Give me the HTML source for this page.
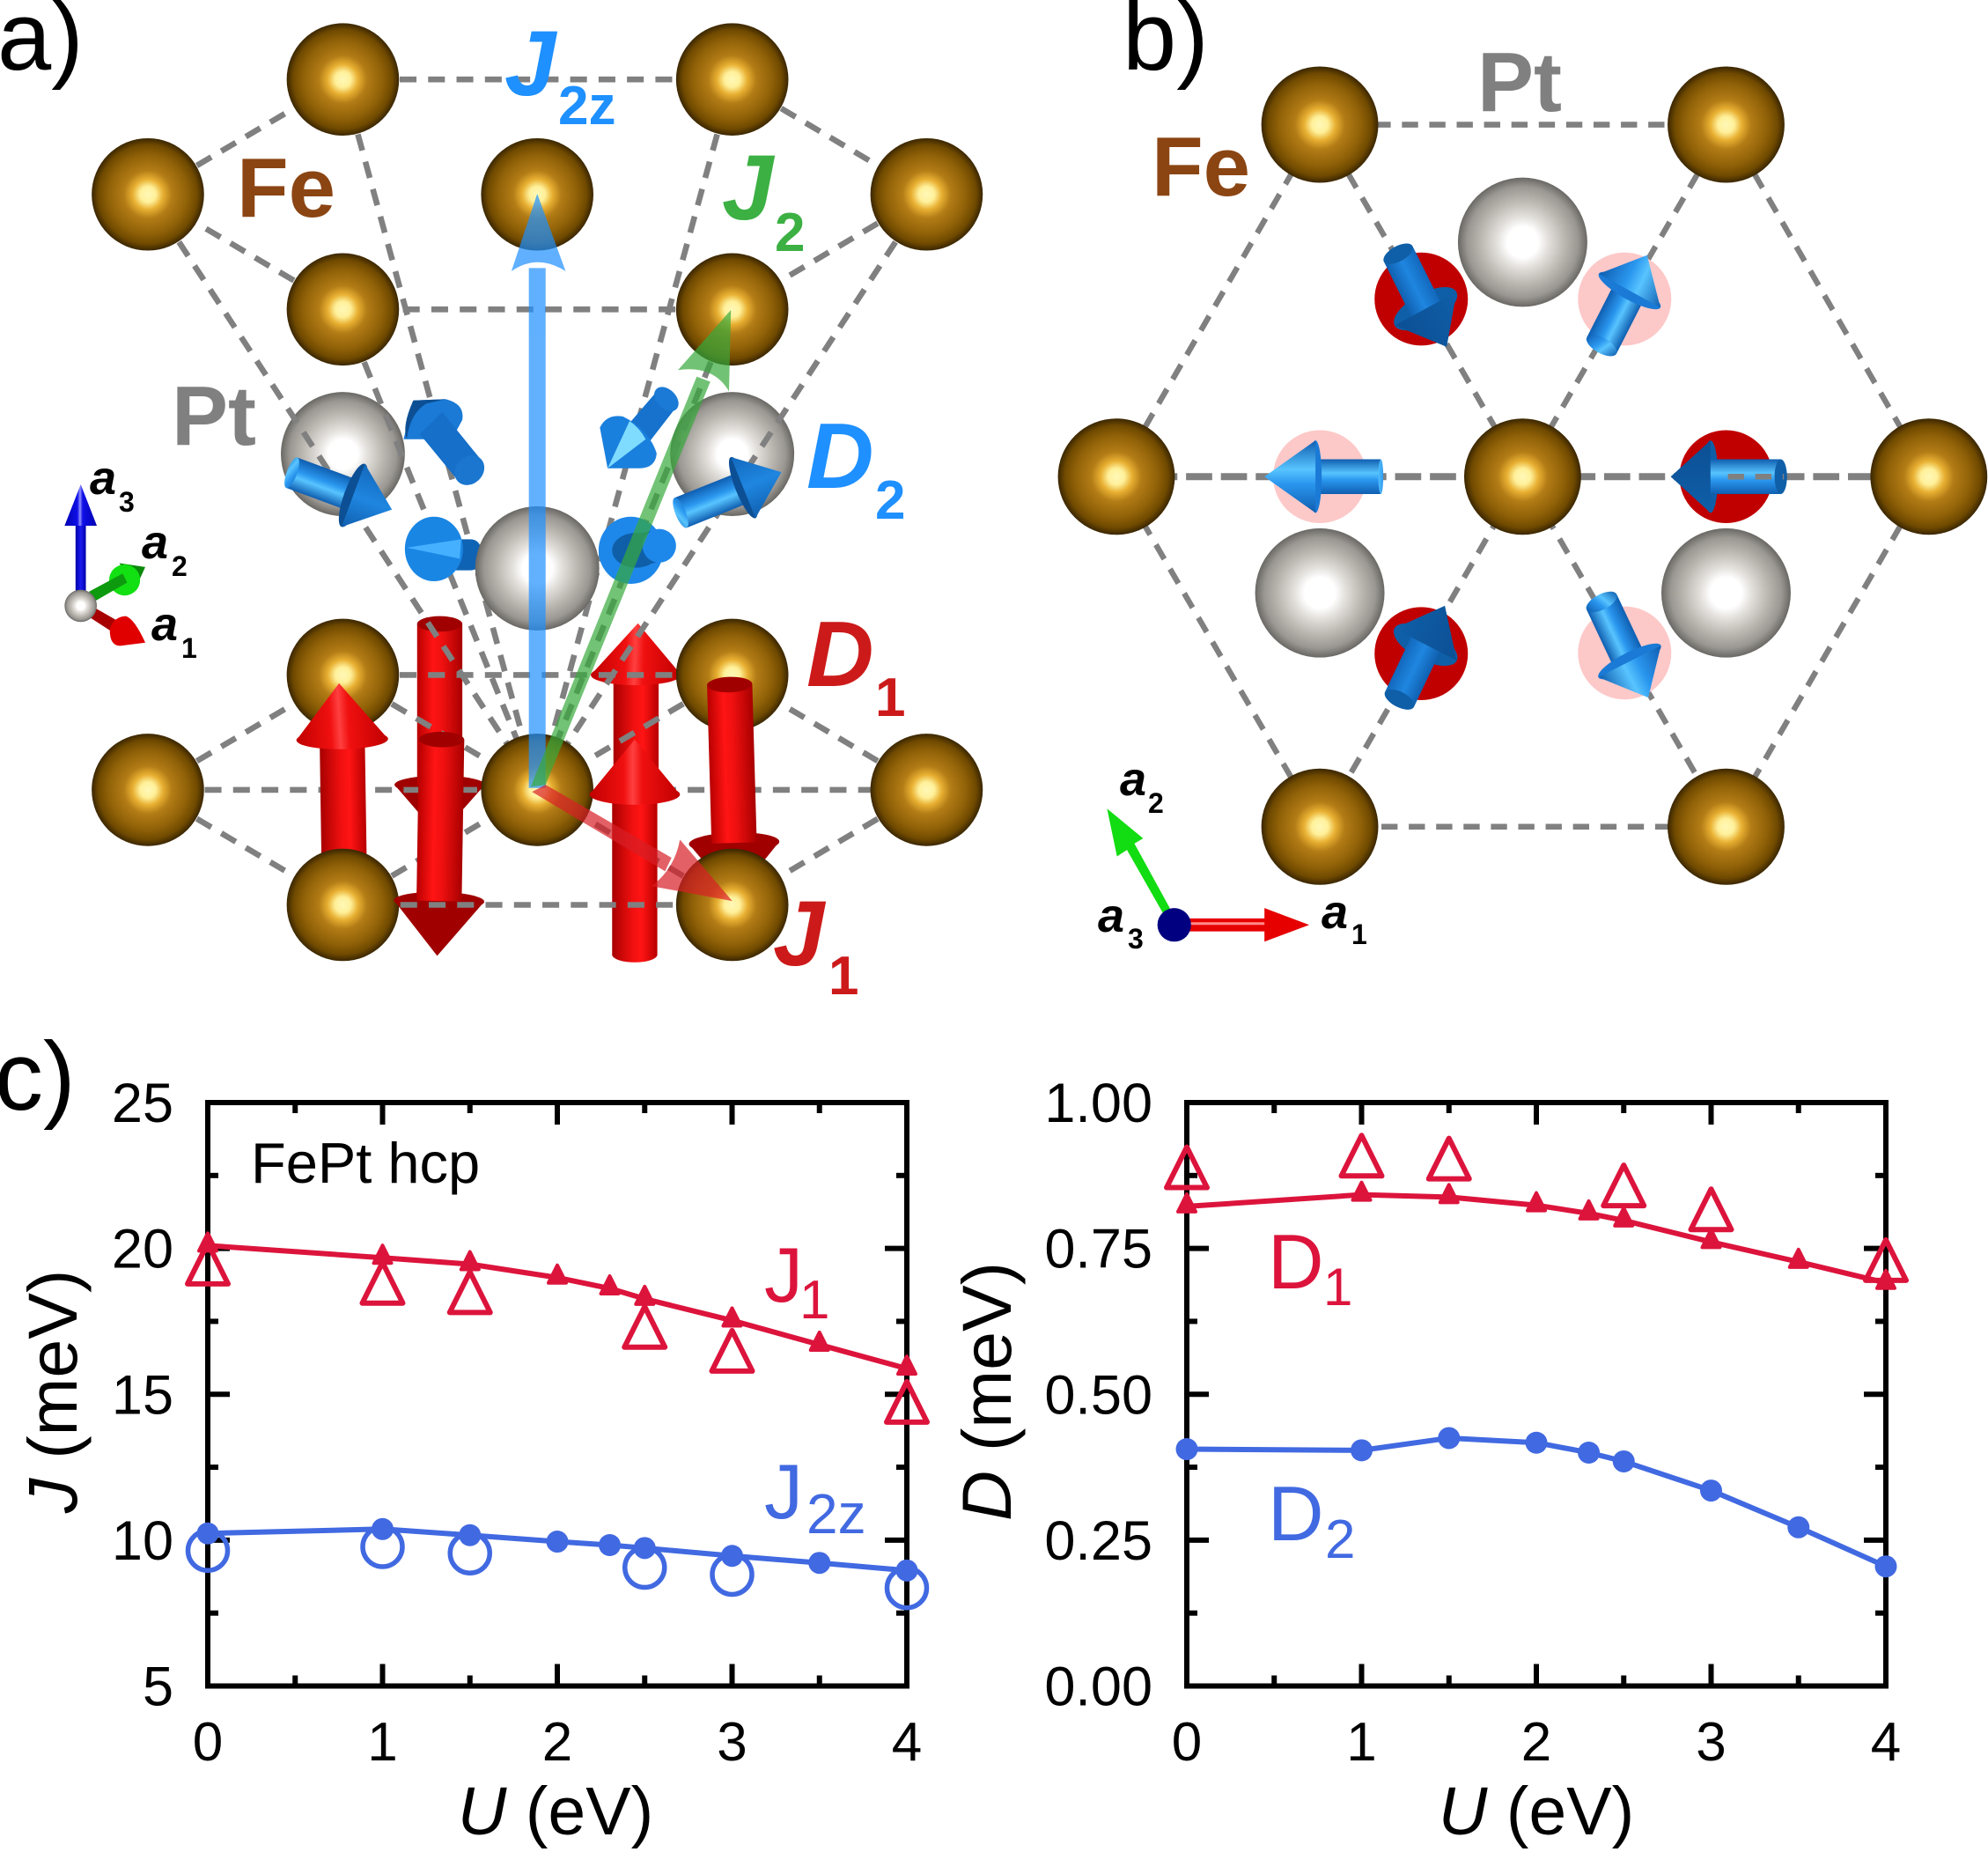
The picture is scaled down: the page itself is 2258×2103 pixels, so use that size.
<!DOCTYPE html>
<html lang="en">
<head>
<meta charset="utf-8">
<title>FePt hcp exchange parameters</title>
<style>
html,body{margin:0;padding:0;background:#fff;}
svg{display:block;font-family:"Liberation Sans",sans-serif;}
.lbl{font-weight:bold;}
.it{font-style:italic;}
</style>
</head>
<body>
<svg id="fig" width="2258" height="2103" viewBox="0 0 2258 2103">
<defs id="defs">
<radialGradient id="feG" cx="50%" cy="50%" r="50%">
<stop offset="0" stop-color="#fff8b8"/><stop offset=".14" stop-color="#fff09a"/><stop offset=".27" stop-color="#e8b032"/><stop offset=".43" stop-color="#b37c16"/><stop offset=".7" stop-color="#916208"/><stop offset=".88" stop-color="#704a00"/><stop offset="1" stop-color="#3a2600"/>
</radialGradient>
<radialGradient id="ptG" cx="50%" cy="50%" r="50%">
<stop offset="0" stop-color="#fff"/><stop offset=".24" stop-color="#fff"/><stop offset=".4" stop-color="#e3e0dc"/><stop offset=".64" stop-color="#bcb8b2"/><stop offset=".86" stop-color="#9a9792"/><stop offset="1" stop-color="#6a6864"/>
</radialGradient>
</defs>
<rect width="2258" height="2103" fill="#fff"/>

<g id="panelA" transform="scale(.7334)">
<g id="aBack"></g>
<g>
<circle cx="531" cy="703" r="96" fill="url(#ptG)"/>
<circle cx="1134" cy="703" r="96" fill="url(#ptG)"/>
</g>
<g fill="none" stroke="#808080" stroke-width="9" stroke-dasharray="26 18">
<path d="M531 123H1134M1134 123L1435 301M1435 301L1134 479M1134 479H531M531 479L229 301M229 301L531 123"/>
<path d="M229 301L832 1223M531 123L832 1223M531 479L832 1223M1134 123L832 1223M1134 479L832 1223M1435 301L832 1223"/>
<path d="M229 1223H1435M531 1045H1134M531 1045L832 1223M1134 1045L832 1223M531 1401L832 1223M1134 1401L832 1223M229 1223L531 1045M229 1223L531 1401M1435 1223L1134 1045M1435 1223L1134 1401"/>
</g>
<g>
<circle cx="531" cy="123" r="87" fill="url(#feG)"/>
<circle cx="1134" cy="123" r="87" fill="url(#feG)"/>
<circle cx="229" cy="301" r="87" fill="url(#feG)"/>
<circle cx="832" cy="301" r="87" fill="url(#feG)"/>
<circle cx="1435" cy="301" r="87" fill="url(#feG)"/>
<circle cx="531" cy="479" r="87" fill="url(#feG)"/>
<circle cx="1134" cy="479" r="87" fill="url(#feG)"/>
<circle cx="531" cy="1045" r="87" fill="url(#feG)"/>
<circle cx="1134" cy="1045" r="87" fill="url(#feG)"/>
<circle cx="229" cy="1223" r="87" fill="url(#feG)"/>
<circle cx="832" cy="1223" r="87" fill="url(#feG)"/>
<circle cx="1435" cy="1223" r="87" fill="url(#feG)"/>
</g>
<circle cx="832" cy="880" r="96" fill="url(#ptG)"/>
<g id="aMid"></g>
<circle cx="531" cy="1401" r="87" fill="url(#feG)"/>
<circle cx="1134" cy="1401" r="87" fill="url(#feG)"/>
<g id="aFront"></g>
<path d="M620 1401H1047" fill="none" stroke="#808080" stroke-width="9" stroke-dasharray="26 18"/>
<g id="aBlue"></g>
<g>
<g fill="#1e90ff" opacity=".7">
<path d="M819 1220V415H845V1220Z"/>
<path d="M832 300L876 420Q832 392 792 420Z"/>
</g>
<g fill="#37a93c" opacity=".7">
<path d="M822 1218L1079 583L1100 591L845 1215Z"/>
<path d="M1132 480L1129 606Q1105 565 1050 573Z"/>
</g>
<g fill="#d81f26" opacity=".7">
<path d="M824 1226L845 1215L1040 1328L1030 1349Z"/>
<path d="M1134 1395L1009 1372Q1045 1345 1053 1300Z"/>
</g>
</g>
<g id="aAxes"></g>
</g>

<g id="panelB" transform="translate(1150,0) scale(.7066,.7334)">
<g fill="none" stroke="#808080" stroke-width="9" stroke-dasharray="26 18">
<path d="M494 193H1147M1147 193L1473 738M1473 738L1147 1280M1147 1280H494M494 1280L167 738M167 738L494 193"/>
<path d="M494 193L1147 1280M1147 193L494 1280"/>
</g>
<g>
<ellipse cx="984" cy="463" rx="75" ry="72" fill="#fdc8c8"/>
<ellipse cx="494" cy="738" rx="75" ry="72" fill="#fdc8c8"/>
<ellipse cx="984" cy="1011" rx="75" ry="72" fill="#fdc8c8"/>
<ellipse cx="657" cy="463" rx="75" ry="72" fill="#c00000"/>
<ellipse cx="1147" cy="738" rx="75" ry="72" fill="#c00000"/>
<ellipse cx="657" cy="1012" rx="75" ry="72" fill="#c00000"/>
</g>
<path d="M167 738H1473" fill="none" stroke="#808080" stroke-width="11" stroke-dasharray="42 14"/>
<g>
<ellipse cx="820" cy="375" rx="104" ry="100" fill="url(#ptG)"/>
<ellipse cx="494" cy="918" rx="104" ry="100" fill="url(#ptG)"/>
<ellipse cx="1147" cy="918" rx="104" ry="100" fill="url(#ptG)"/>
</g>
<g>
<ellipse cx="494" cy="193" rx="94" ry="90" fill="url(#feG)"/>
<ellipse cx="1147" cy="193" rx="94" ry="90" fill="url(#feG)"/>
<ellipse cx="167" cy="738" rx="94" ry="90" fill="url(#feG)"/>
<ellipse cx="820" cy="738" rx="94" ry="90" fill="url(#feG)"/>
<ellipse cx="1473" cy="738" rx="94" ry="90" fill="url(#feG)"/>
<ellipse cx="494" cy="1280" rx="94" ry="90" fill="url(#feG)"/>
<ellipse cx="1147" cy="1280" rx="94" ry="90" fill="url(#feG)"/>
</g>
<g id="bBlue"></g>
<path d="M1150 738H1240" fill="none" stroke="#808080" stroke-width="9" stroke-dasharray="26 18"/>
<g>
<path d="M242 1414L184 1316L168 1326L152 1252L210 1298L196 1306L254 1408Z" fill="#12dc12"/>
<path d="M280 1422H405V1406L477 1432L405 1458V1442H280Z" fill="#e60000"/>
<path d="M280 1430H405" stroke="#ff8a8a" stroke-width="4"/>
<ellipse cx="260" cy="1432" rx="27" ry="26" fill="#000080"/>
</g>
</g>

<g font-size="110">
<text x="-3" y="79">a)</text>
<text x="1275" y="79">b)</text>
<text x="-6" y="1260">c)</text>
</g>

<g class="lbl">
<text x="269" y="246" font-size="96" fill="#8b4513">Fe</text>
<text x="195" y="505" font-size="96" fill="#808080">Pt</text>
<text fill="#1e90ff"><tspan class="it" x="573" y="108" font-size="105">J</tspan><tspan x="634" y="141" font-size="62">2z</tspan></text>
<text fill="#3cb043"><tspan class="it" x="820" y="249" font-size="105">J</tspan><tspan x="880" y="285" font-size="62">2</tspan></text>
<text fill="#1e90ff"><tspan class="it" x="916" y="554" font-size="106">D</tspan><tspan x="994" y="589" font-size="62">2</tspan></text>
<text fill="#cc1a1a"><tspan class="it" x="916" y="779" font-size="106">D</tspan><tspan x="994" y="813" font-size="62">1</tspan></text>
<text fill="#cc1a1a"><tspan class="it" x="878" y="1096" font-size="105">J</tspan><tspan x="941" y="1129" font-size="62">1</tspan></text>
<text><tspan class="it" x="102" y="561" font-size="54">a</tspan><tspan x="135" y="581" font-size="32">3</tspan></text>
<text><tspan class="it" x="161" y="634" font-size="54">a</tspan><tspan x="195" y="654" font-size="32">2</tspan></text>
<text><tspan class="it" x="172" y="727" font-size="54">a</tspan><tspan x="206" y="747" font-size="32">1</tspan></text>
</g>
<g class="lbl">
<text x="1678" y="126" font-size="96" fill="#808080">Pt</text>
<text x="1308" y="222" font-size="96" fill="#8b4513">Fe</text>
<text><tspan class="it" x="1272" y="903" font-size="54">a</tspan><tspan x="1304" y="923" font-size="32">2</tspan></text>
<text><tspan class="it" x="1247" y="1058" font-size="54">a</tspan><tspan x="1281" y="1077" font-size="32">3</tspan></text>
<text><tspan class="it" x="1501" y="1054" font-size="54">a</tspan><tspan x="1535" y="1072" font-size="32">1</tspan></text>
</g>

<g id="chartJ"></g>
<g id="chartD"></g>

<g>
<text x="285" y="1343" font-size="65">FePt hcp</text>
<text fill="#dc143c"><tspan x="868" y="1478" font-size="88">J</tspan><tspan x="908" y="1497" font-size="62">1</tspan></text>
<text fill="#4169e1"><tspan x="868" y="1724" font-size="88">J</tspan><tspan x="916" y="1741" font-size="64">2z</tspan></text>
<text fill="#dc143c"><tspan x="1440" y="1463" font-size="88">D</tspan><tspan x="1503" y="1482" font-size="60">1</tspan></text>
<text fill="#4169e1"><tspan x="1440" y="1749" font-size="88">D</tspan><tspan x="1505" y="1769" font-size="62">2</tspan></text>
<text transform="translate(87,1580) rotate(-90)" text-anchor="middle" font-size="79"><tspan class="it">J</tspan> (meV)</text>
<text transform="translate(1148,1580) rotate(-90)" text-anchor="middle" font-size="79"><tspan class="it">D</tspan> (meV)</text>
<text x="631" y="2083" text-anchor="middle" font-size="77"><tspan class="it">U</tspan> (eV)</text>
<text x="1745" y="2083" text-anchor="middle" font-size="77"><tspan class="it">U</tspan> (eV)</text>
</g>
</svg>

<script>
// ---- chart data ----
const uCalc = [0, 1, 1.5, 2, 2.3, 2.5, 3, 3.5, 4];
const uRef = [0, 1, 1.5, 2.5, 3, 4];
const j1Calc = [20.1, 19.68, 19.46, 19.0, 18.63, 18.27, 17.53, 16.7, 15.88];
const j1Ref = [19.48, 18.82, 18.5, 17.31, 16.49, 14.74];
const j2zCalc = [10.23, 10.38, 10.17, 9.95, 9.83, 9.73, 9.46, 9.22, 8.96];
const j2zRef = [9.64, 9.77, 9.55, 9.06, 8.82, 8.36];
const d1Calc = [0.822, 0.842, 0.838, 0.824, 0.81, 0.798, 0.761, 0.727, 0.691];
const d1Ref = [0.889, 0.909, 0.904, 0.858, 0.817, 0.73];
const d2Calc = [0.406, 0.404, 0.425, 0.417, 0.40, 0.385, 0.335, 0.272, 0.205];
const xTickLabels = ['0', '1', '2', '3', '4'];
const jTickLabels = ['5', '10', '15', '20', '25'];
const dTickLabels = ['0.00', '0.25', '0.50', '0.75', '1.00'];

const fig = document.getElementById('fig');
const NS = fig.namespaceURI;
const defs = document.getElementById('defs');
const CRIMSON = '#dc143c';
const ROYAL = '#4169e1';

function mk(tag, parent, attrs, name) {
  const el = document.createElementNS(NS, tag);
  for (const k in attrs) el.setAttribute(k, attrs[k]);
  
  
  parent.appendChild(el);
  return el;
}

// ---- charts ----
function drawChart(root, box, yMin, yMax, yLabels, labelRight, series) {
  const xS = u => box.x0 + (u / 4) * (box.x1 - box.x0);
  const yS = v => box.y0 + (v - yMin) / (yMax - yMin) * (box.y1 - box.y0);
  const axisStyle = {stroke: '#000', 'stroke-width': 6, fill: 'none'};
  // ticks
  for (let i = 0; i <= 8; i++) {
    const u = i / 2;
    const len = i % 2 === 0 ? 25 : 12;
    if (i > 0 && i < 8) {
      mk('line', root, Object.assign({x1: xS(u), x2: xS(u), y1: box.y0, y2: box.y0 - len}, axisStyle), 'x-tick-bottom');
      mk('line', root, Object.assign({x1: xS(u), x2: xS(u), y1: box.y1, y2: box.y1 + len}, axisStyle), 'x-tick-top');
    }
  }
  xTickLabels.forEach((t, i) => {
    const lab = mk('text', root, {x: xS(i), y: 1999, 'text-anchor': 'middle', 'font-size': 62}, 'x-tick-label');
    lab.textContent = t;
  });
  yLabels.forEach((t, i) => {
    const v = yMin + i * (yMax - yMin) / (yLabels.length - 1);
    const lab = mk('text', root, {x: labelRight, y: yS(v) + 22, 'text-anchor': 'end', 'font-size': 63}, 'y-tick-label');
    lab.textContent = t;
  });
  for (let i = 1; i < 8; i++) {
    const v = yMin + i * (yMax - yMin) / 8;
    const len = i % 2 === 0 ? 25 : 12;
    mk('line', root, Object.assign({x1: box.x0, x2: box.x0 + len, y1: yS(v), y2: yS(v)}, axisStyle), 'y-tick-left');
    mk('line', root, Object.assign({x1: box.x1, x2: box.x1 - len, y1: yS(v), y2: yS(v)}, axisStyle), 'y-tick-right');
  }
  mk('rect', root, Object.assign({x: box.x0, y: box.y1, width: box.x1 - box.x0, height: box.y0 - box.y1}, axisStyle), 'plot-frame');
  // series
  series.forEach(s => {
    if (s.ref) {
      s.ref.forEach((v, i) => {
        const x = xS(uRef[i]), y = yS(v);
        if (s.marker === 'tri') {
          mk('polygon', root, {points: `${x},${y - 23} ${x + 23},${y + 23} ${x - 23},${y + 23}`, fill: 'none', stroke: s.color, 'stroke-width': 6, 'stroke-linejoin': 'round'}, s.name + '-reference-point');
        } else {
          mk('circle', root, {cx: x, cy: y, r: 22.5, fill: 'none', stroke: s.color, 'stroke-width': 5.5}, s.name + '-reference-point');
        }
      });
    }
    const pts = s.calc.map((v, i) => xS(uCalc[i]) + ',' + yS(v)).join(' ');
    mk('polyline', root, {points: pts, fill: 'none', stroke: s.color, 'stroke-width': 6, 'stroke-linejoin': 'round'}, s.name + '-line');
    s.calc.forEach((v, i) => {
      const x = xS(uCalc[i]), y = yS(v);
      if (s.marker === 'tri') {
        mk('polygon', root, {points: `${x},${y - 14} ${x + 10},${y + 6} ${x - 10},${y + 6}`, fill: s.color, stroke: s.color, 'stroke-width': 4, 'stroke-linejoin': 'round'}, s.name + '-point');
      } else {
        mk('circle', root, {cx: x, cy: y, r: 12.5, fill: s.color}, s.name + '-point');
      }
    });
  });
}

drawChart(document.getElementById('chartJ'), {x0: 236, x1: 1030, y0: 1914.5, y1: 1252}, 5, 25, jTickLabels, 197, [
  {name: 'j1', calc: j1Calc, ref: j1Ref, color: CRIMSON, marker: 'tri'},
  {name: 'j2z', calc: j2zCalc, ref: j2zRef, color: ROYAL, marker: 'circ'}
]);
drawChart(document.getElementById('chartD'), {x0: 1348, x1: 2142, y0: 1914.5, y1: 1252}, 0, 1, dTickLabels, 1309, [
  {name: 'd1', calc: d1Calc, ref: d1Ref, color: CRIMSON, marker: 'tri'},
  {name: 'd2', calc: d2Calc, ref: null, color: ROYAL, marker: 'circ'}
]);

// ---- 3D-style arrows ----
let gid = 0;
function bandGrad(a, b, w, stops) {
  const id = 'g' + (gid++);
  const dx = b[0] - a[0], dy = b[1] - a[1], L = Math.hypot(dx, dy);
  const nx = -dy / L, ny = dx / L;
  const g = mk('linearGradient', defs, {id: id, gradientUnits: 'userSpaceOnUse', x1: a[0] + nx * w, y1: a[1] + ny * w, x2: a[0] - nx * w, y2: a[1] - ny * w}, 'arrow-gradient');
  stops.forEach(s => {
    const st = document.createElementNS(NS, 'stop');
    st.setAttribute('offset', s[0]);
    st.setAttribute('stop-color', s[1]);
    g.appendChild(st);
  });
  return 'url(#' + id + ')';
}
const RED_SHAFT = [[0, '#b80000'], [.35, '#ff1414'], [.55, '#f01010'], [1, '#a80000']];
const RED_CONE = [[0, '#c00000'], [.42, '#f01010'], [.52, '#ff4040'], [.62, '#f01010'], [1, '#c00000']];
const DARK_CONE = [[0, '#a00000'], [1, '#a00000']];
const BLUE_LIGHT = [[0, '#0f5eb0'], [.4, '#58c4ff'], [.6, '#2a96ee'], [1, '#0f5eb0']];
const BLUE_FLAT = [[0, '#1060b0'], [.5, '#1f86e0'], [1, '#1268bc']];
const BLUE_DARK = [[0, '#0c4f94'], [1, '#0f5fa8']];

function arrow(parent, name, o) {
  const g = mk('g', parent, {}, name);
  const dx = o.base[0] - o.tail[0], dy = o.base[1] - o.tail[1], L = Math.hypot(dx, dy);
  const nx = -dy / L, ny = dx / L;
  const ang = Math.atan2(ny, nx) * 180 / Math.PI;
  const w = o.w, W = o.W;
  const drawShaft = () => {
    const fill = bandGrad(o.tail, o.base, w, o.shaftStops);
    mk('polygon', g, {points: [
      [o.tail[0] + nx * w, o.tail[1] + ny * w],
      [o.base[0] + nx * w, o.base[1] + ny * w],
      [o.base[0] - nx * w, o.base[1] - ny * w],
      [o.tail[0] - nx * w, o.tail[1] - ny * w]
    ].map(p => p.join(',')).join(' '), fill: fill}, name + '-shaft');
    if (o.capB) {
      mk('ellipse', g, {cx: o.tail[0], cy: o.tail[1], rx: w, ry: o.capB, fill: o.capFill || fill, transform: `rotate(${ang} ${o.tail[0]} ${o.tail[1]})`}, name + '-tail-cap');
    }
  };
  const drawCone = () => {
    const fill = bandGrad(o.base, o.tip, W, o.coneStops);
    if (o.baseB) {
      mk('ellipse', g, {cx: o.base[0], cy: o.base[1], rx: W, ry: o.baseB, fill: o.baseFill || fill, transform: `rotate(${ang} ${o.base[0]} ${o.base[1]})`}, name + '-cone-base');
    }
    mk('polygon', g, {points: [
      [o.base[0] + nx * W, o.base[1] + ny * W],
      o.tip,
      [o.base[0] - nx * W, o.base[1] - ny * W]
    ].map(p => p.join(',')).join(' '), fill: fill}, name + '-cone');
  };
  if (o.shaftOver) { drawCone(); drawShaft(); } else { drawShaft(); drawCone(); }
  return g;
}

// Panel a red arrows (D1)
const aBack = document.getElementById('aBack');
const aMid = document.getElementById('aMid');
const aFront = document.getElementById('aFront');
arrow(aBack, 'd1-arrow-up-rear', {tail: [985, 1230], base: [985, 1045], tip: [988, 965], w: 35, W: 70, baseB: 16, shaftStops: RED_SHAFT, coneStops: RED_CONE});
arrow(aBack, 'd1-arrow-down-rear', {tail: [681, 966], base: [681, 1215], tip: [680, 1295], w: 35, W: 70, capB: 12, capFill: '#a00000', baseB: 14, baseFill: '#a00000', shaftOver: true, shaftStops: RED_SHAFT, coneStops: DARK_CONE});
arrow(aMid, 'd1-arrow-up-left', {tail: [533, 1340], base: [530, 1145], tip: [525, 1058], w: 35, W: 71, baseB: 15, shaftStops: RED_SHAFT, coneStops: RED_CONE});
arrow(aMid, 'd1-arrow-down-right', {tail: [1130, 1060], base: [1137, 1305], tip: [1137, 1390], w: 35, W: 70, capB: 12, capFill: '#a00000', baseB: 16, baseFill: '#a00000', shaftOver: true, shaftStops: RED_SHAFT, coneStops: DARK_CONE});
arrow(aFront, 'd1-arrow-down-front', {tail: [684, 1145], base: [680, 1395], tip: [677, 1480], w: 35, W: 70, capB: 12, capFill: '#a00000', baseB: 14, baseFill: '#a00000', shaftOver: true, shaftStops: RED_SHAFT, coneStops: DARK_CONE});
arrow(aFront, 'd1-arrow-up-front', {tail: [983, 1478], base: [983, 1230], tip: [983, 1145], w: 35, W: 70, capB: 12, baseB: 16, shaftStops: RED_SHAFT, coneStops: RED_CONE});

// Panel a blue arrows (D2)
const aBlue = document.getElementById('aBlue');
arrow(aBlue, 'd2-arrow-left', {tail: [452, 732], base: [547, 767], tip: [607, 789], w: 25, W: 52, capB: 8, baseB: 14, baseFill: '#0c4f94', shaftStops: BLUE_LIGHT, coneStops: BLUE_FLAT});
arrow(aBlue, 'd2-arrow-right', {tail: [1054, 794], base: [1151, 755], tip: [1210, 731], w: 25, W: 51, capB: 8, baseB: 12, baseFill: '#0c4f94', shaftStops: BLUE_LIGHT, coneStops: BLUE_FLAT});
{
  const g = mk('g', aBlue, {}, 'd2-arrow-back-left');
  mk('path', g, {d: 'M640 620L690 618Q720 625 716 650L700 680L625 680Z', fill: '#1a7ad6'}, 'back-left-cone');
  mk('path', g, {d: 'M640 620L690 618L660 625Q635 640 630 680Q622 660 640 620Z', fill: '#0c4f94'}, 'back-left-cone-edge');
  mk('polygon', g, {points: '650,672 685,638 745,712 710,745', fill: '#166fc8'}, 'back-left-shaft');
  mk('ellipse', g, {cx: 727, cy: 728, rx: 25, ry: 21, fill: '#1a76cf', transform: 'rotate(-45 727 728)'}, 'back-left-cap');
  const h = mk('g', aBlue, {}, 'd2-arrow-back-right');
  mk('polygon', h, {points: '975,655 1018,605 1046,632 1005,685', fill: '#1672cc'}, 'back-right-shaft');
  mk('ellipse', h, {cx: 1032, cy: 618, rx: 22, ry: 15, fill: '#1a7ad6', transform: 'rotate(45 1032 618)'}, 'back-right-cap');
  mk('path', h, {d: 'M941 725L929 662Q940 640 965 645Q1005 665 1017 702Q1015 725 990 725Z', fill: '#1a80de'}, 'back-right-cone');
  mk('path', h, {d: 'M941 725L975 652Q990 662 1000 680Z', fill: '#7fdcff'}, 'back-right-cone-highlight');
  const i = mk('g', aBlue, {}, 'd2-arrow-ball-left');
  mk('rect', i, {x: 690, y: 835, width: 55, height: 48, rx: 16, fill: '#0f63b4'}, 'ball-left-shaft');
  mk('ellipse', i, {cx: 672, cy: 850, rx: 45, ry: 50, fill: '#1a86e4'}, 'ball-left-head');
  mk('polygon', i, {points: '630,848 714,835 712,865', fill: '#45b0ff'}, 'ball-left-highlight');
  const j = mk('g', aBlue, {}, 'd2-arrow-ball-right');
  mk('ellipse', j, {cx: 977, cy: 852, rx: 50, ry: 52, fill: '#1e88ea'}, 'ball-right-head');
  mk('ellipse', j, {cx: 985, cy: 852, rx: 37, ry: 27, fill: '#0f5fa8'}, 'ball-right-shaft');
  mk('polygon', j, {points: '985,827 1020,820 1020,870 985,878', fill: '#0f5fa8'}, 'ball-right-shaft-body');
  mk('ellipse', j, {cx: 1021, cy: 845, rx: 26, ry: 26, fill: '#1e88ea'}, 'ball-right-cap');
}
// re-draw center Pt over the blue ball stem
mk('circle', aBlue, {cx: 832, cy: 880, r: 96, fill: 'url(#ptG)'}, 'pt-atom-center-front');

// Axis triad (panel a)
const aAxes = document.getElementById('aAxes');
arrow(aAxes, 'a3-axis-arrow', {tail: [125, 925], base: [125, 814], tip: [125, 750], w: 8, W: 25, shaftStops: [[0, '#0000a8'], [.5, '#1a1af0'], [1, '#0000a8']], coneStops: [[0, '#0000b0'], [.44, '#1010e8'], [.52, '#9090ff'], [.6, '#1010e8'], [1, '#0000b0']]});
mk('polygon', aAxes, {points: '185,872 225,878 208,915', fill: '#0a8a0a'}, 'a2-axis-cone-rim');
mk('ellipse', aAxes, {cx: 193, cy: 898, rx: 24, ry: 24, fill: '#12e012'}, 'a2-axis-head');
mk('polygon', aAxes, {points: '138,916 190,888 197,902 145,932', fill: '#0e9a0e'}, 'a2-axis-shaft');
mk('polygon', aAxes, {points: '138,936 180,960 170,976 130,950', fill: '#a80000'}, 'a1-axis-shaft');
mk('path', aAxes, {d: 'M225 995L186 1000Q170 1000 170 975Q175 955 195 954Q208 958 225 995Z', fill: '#e00000'}, 'a1-axis-head');
mk('circle', aAxes, {cx: 125, cy: 938, r: 25, fill: 'url(#ptG)'}, 'axes-origin');

// Panel b blue arrows
const bBlue = document.getElementById('bBlue');
arrow(bBlue, 'top-view-arrow-dark-upper', {tail: [620, 393], base: [664, 478], tip: [698, 537], w: 26, W: 56, capB: 12, capFill: '#0f5fa8', baseB: 24, baseFill: '#0f5fa8', shaftOver: true, shaftStops: BLUE_FLAT, coneStops: BLUE_DARK});
arrow(bBlue, 'top-view-arrow-light-upper', {tail: [947, 535], base: [992, 450], tip: [1020, 395], w: 27, W: 56, capB: 12, baseB: 14, baseFill: '#1a7ad6', shaftStops: BLUE_LIGHT, coneStops: BLUE_LIGHT});
arrow(bBlue, 'top-view-arrow-light-left', {tail: [592, 738], base: [487, 738], tip: [405, 738], w: 27, W: 56, capB: 4, baseB: 10, baseFill: '#1a7ad6', shaftStops: BLUE_LIGHT, coneStops: BLUE_LIGHT});
arrow(bBlue, 'top-view-arrow-dark-right', {tail: [1235, 738], base: [1122, 738], tip: [1058, 738], w: 27, W: 56, capB: 10, capFill: '#0f5fa8', baseB: 12, baseFill: '#0f5fa8', shaftOver: true, shaftStops: BLUE_LIGHT, coneStops: BLUE_DARK});
arrow(bBlue, 'top-view-arrow-dark-lower', {tail: [622, 1083], base: [664, 998], tip: [695, 938], w: 26, W: 56, capB: 12, capFill: '#0f5fa8', baseB: 24, baseFill: '#0f5fa8', shaftOver: true, shaftStops: BLUE_FLAT, coneStops: BLUE_DARK});
arrow(bBlue, 'top-view-arrow-light-lower', {tail: [947, 932], base: [992, 1024], tip: [1022, 1080], w: 27, W: 56, capB: 12, baseB: 14, baseFill: '#1a7ad6', shaftStops: BLUE_LIGHT, coneStops: BLUE_LIGHT});
</script>
</body>
</html>
